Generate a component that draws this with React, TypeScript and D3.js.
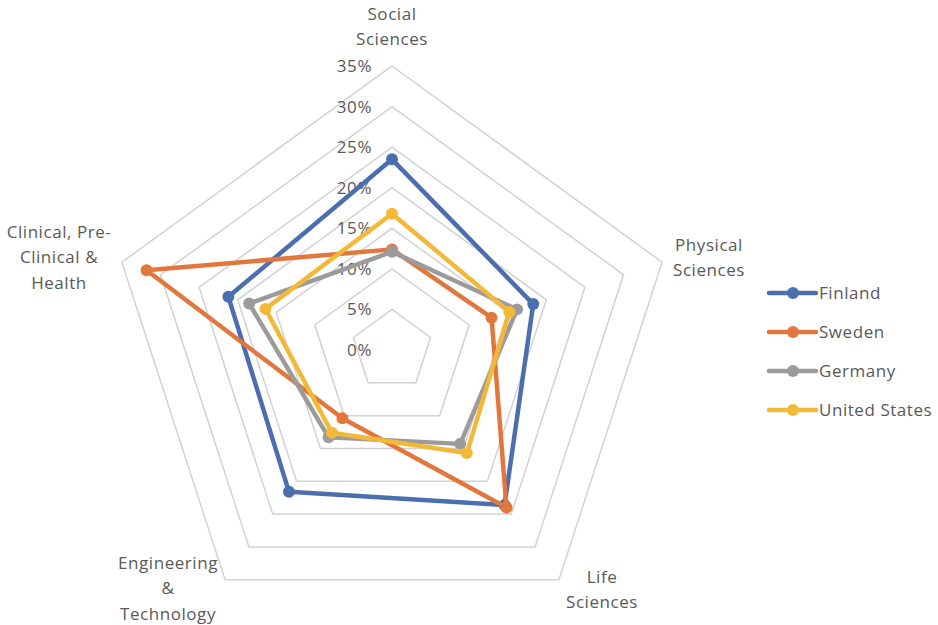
import React from "react";
import * as d3 from "d3";

const categories = ["Social Sciences", "Physical Sciences", "Life Sciences", "Engineering & Technology", "Clinical, Pre-Clinical & Health"];
const categoryLines = [["Social", "Sciences"], ["Physical", "Sciences"], ["Life", "Sciences"], ["Engineering", "&", "Technology"], ["Clinical, Pre-", "Clinical &", "Health"]];
const seriesNames = ["Finland", "Sweden", "Germany", "United States"];
const finland = [23.5, 18.3, 23.6, 21.6, 21.2];
const sweden = [12.4, 12.9, 24.0, 10.4, 31.8];
const germany = [12.1, 16.2, 14.3, 13.3, 18.5];
const unitedStates = [16.8, 15.2, 15.7, 12.6, 16.4];
const ticks = [0, 5, 10, 15, 20, 25, 30, 35];
const colors = ["#4a6eae", "#e2773e", "#9b9b9b", "#f4b839"];

const W = 938, H = 625;
const cx = 392, cy = 350, R = 284;
const font = "'Open Sans', 'Noto Sans', sans-serif";
const FS = 17;
const LS = 0.55;

export default function App() {
  const r = d3.scaleLinear().domain([0, 35]).range([0, R]);
  const ang = (i: number) => (i * 2 * Math.PI) / categories.length;
  const pt = (i: number, v: number): [number, number] => [cx + r(v) * Math.sin(ang(i)), cy - r(v) * Math.cos(ang(i))];
  const data = [finland, sweden, germany, unitedStates];
  const line = d3.line<[number, number]>().curve(d3.curveLinearClosed);

  const labelPos = [
    { x: 392, y: 14 },
    { x: 709, y: 245 },
    { x: 602, y: 577 },
    { x: 168, y: 563 },
    { x: 59, y: 232 },
  ];

  return (
    <svg width={W} height={H} style={{ position: "absolute", left: 0, top: 0, background: "#fff" }} fontFamily={font}>
      {ticks.filter((t) => t > 0).map((t) => (
        <path key={t} d={line(categories.map((_, i) => pt(i, t))) || ""} fill="none" stroke="#d2d2d2" strokeWidth={1.5} />
      ))}
      {ticks.map((t) => (
        <text key={"t" + t} x={372} y={cy - r(t)} dy="0.35em" textAnchor="end" fontSize={FS} letterSpacing={LS} fill="#595959">{t}%</text>
      ))}
      {categoryLines.map((lines, i) => (
        <text key={"c" + i} textAnchor="middle" fontSize={FS} letterSpacing={LS} fill="#595959">
          {lines.map((l, j) => (
            <tspan key={j} x={labelPos[i].x} y={labelPos[i].y + j * 25.3} dy="0.35em">{l}</tspan>
          ))}
        </text>
      ))}
      {data.map((vals, s) => (
        <g key={"s" + s}>
          <path d={line(vals.map((v, i) => pt(i, v))) || ""} fill="none" stroke={colors[s]} strokeWidth={4.5} strokeLinejoin="round" />
          {vals.map((v, i) => {
            const [x, y] = pt(i, v);
            return <circle key={i} cx={x} cy={y} r={6} fill={colors[s]} />;
          })}
        </g>
      ))}
      {seriesNames.map((n, s) => {
        const y = 293 + s * 39;
        return (
          <g key={"l" + s}>
            <line x1={769} x2={816} y1={y} y2={y} stroke={colors[s]} strokeWidth={4.5} strokeLinecap="round" />
            <circle cx={793} cy={y} r={6} fill={colors[s]} />
            <text x={819} y={y} dy="0.35em" fontSize={FS} letterSpacing={LS} fill="#595959">{n}</text>
          </g>
        );
      })}
    </svg>
  );
}
